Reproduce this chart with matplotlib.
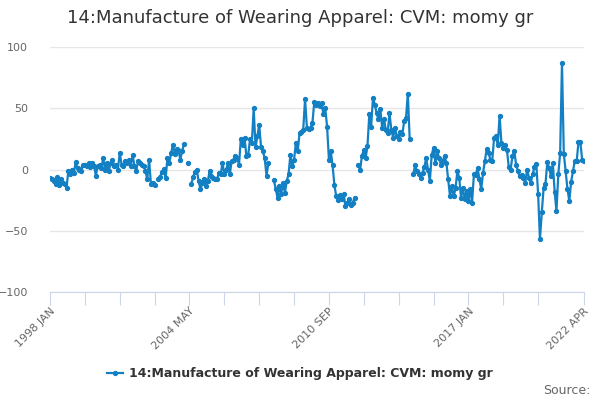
import matplotlib

matplotlib.use("Agg")
import matplotlib.pyplot as plt
import numpy as np

TITLE = "14:Manufacture of Wearing Apparel: CVM: momy gr"
LINE_COL = "#1380c3"

# monthly series, 1998 JAN .. 2022 APR, split where the source has no values
seg_a = [-7, -8, -9.5, -12, -6, -13, -8, -11, -12, -15, -1, -4, 0, -3, 6, 1,
         0, -1, 4, 4, 3, 5, 2, 5, 3, -5, 3, 4, 1, 9.5, 0, 5, -1, 5, 8, 3, 4,
         0, 13.6, 4, 3, 7, 5, 8, 3, 12, 3, -1, 7, 5, 4, 3, -1, -8, 8, -12,
         -11, -13]
seg_b = [-7.6, -6, -2, 0.5, -7, 9, 5, 13.6, 20, 13, 17, 16, 8, 15, 21]
seg_lone = [5]
seg_c = [-12, -6, -2, -0.5, -9.5, -16, -11, -8, -13.6, -9.5, -1, -5, -7,
         -7.6, -8, -3, -4, 5.4, -4, 0, 5, -4, 7, 8, 11, 9.5, 4, 25, 20, 26,
         11.4, 12, 24.5, 22, 50, 18, 27, 36.7, 18.5, 15, 9, -5, 5]
seg_d = [-8.7, -16, -23, -13.6, -19.6, -11, -19, -9.5, -4, 12, 2.7, 8, 21.8,
         15, 30, 30.5, 32.6, 57.7, 34, 33, 34, 38, 55, 53, 54, 51.7, 54, 45,
         50, 35, 8, 15, 3.3, -13, -22, -25, -21, -24, -20, -30, -27, -24,
         -28.6, -27, -23]
seg_e = [4, -0.5, 11.4, 15.8, 9.5, 19, 45, 35, 58.5, 53, 46, 41, 49.5, 34,
         41, 32.6, 30, 46, 32.6, 26, 34, 27, 24.5, 30.5, 28.6, 39.5, 42, 62,
         25]
seg_f = [-3.3, 3.3, -1.4, -4, -6.8, -2.7, 2, 9.3, 0, -9.5, 12, 17.7, 5.4, 15,
         9.5, 4, 6.8, 11, 5.4, -8, -22, -13.6, -22, -15, -1.4,
         -6.8, -23, -15, -24, -17.6, -25.7, -16, -27, -4, -4.6, 1.4, -8, -16,
         -2.7, 7.3, 17, 13.5, 8, 7.3, 25.7, 27, 19.9, 44,
         21.6, 17.6, 20, 16, 2, 0, 10.8, 15.4, 4, -1.4, -5.4, -4.6, -6.8,
         -10.8, 0, -6.8, -10.8, -4, 2, 4.6, -20, -57,
         -35, -15, -12, 6, 1.4, -5.4, 5.4, -18, -34, -4, 13.5, 87,
         12.7, -1.4, -16, -25.7, -10, -1.4, 7.3, 6.8, 22.4, 22.4, 8, 6.8]
# (segment, missing months after it)
SEGMENTS = [(seg_a, 1), (seg_b, 1), (seg_lone, 1), (seg_c, 2),
            (seg_d, 1), (seg_e, 1), (seg_f, 0)]

TICK_POS = [0, 19, 38, 57, 76, 95, 114, 133, 152, 171, 190, 209, 228, 247,
            266, 291]
TICK_LABELS = {0: "1998 JAN", 76: "2004 MAY", 152: "2010 SEP",
               228: "2017 JAN", 291: "2022 APR"}

vals = []
for seg, gap in SEGMENTS:
    vals += seg + [np.nan] * gap
vals = np.array(vals, dtype=float)
months = np.arange(len(vals))

plt.rcParams["font.family"] = "DejaVu Sans"
fig = plt.figure(figsize=(6, 4), dpi=100)
ax = fig.add_axes([50 / 600, 108 / 400, 534 / 600, 245 / 400])

ax.plot(months, vals, color=LINE_COL, lw=1.6, marker="o", ms=2.8,
        label=TITLE, zorder=3)

ax.set_xlim(0, 291)
ax.set_ylim(-100, 100)
ax.set_yticks([-100, -50, 0, 50, 100])
ax.grid(axis="y", color="#e6e6e6", lw=1)
ax.set_axisbelow(True)
for s in ["top", "right", "left"]:
    ax.spines[s].set_visible(False)
ax.spines["bottom"].set_color("#ccd6eb")
ax.tick_params(axis="y", length=0, pad=16, labelsize=8, labelcolor="#666666")
ax.set_xticks(TICK_POS)
ax.set_xticklabels([TICK_LABELS.get(t, "") for t in TICK_POS])
ax.tick_params(axis="x", length=9, color="#ccd6eb", pad=1, labelsize=8,
               labelcolor="#666666")
for lab in ax.get_xticklabels():
    lab.set_rotation(45)
    lab.set_ha("right")
    lab.set_va("top")
    lab.set_rotation_mode("anchor")

fig.text(0.5, 1 - 18 / 400, TITLE, ha="center", va="center", fontsize=13,
         color="#333333")
leg = fig.legend(loc="center", bbox_to_anchor=(0.5, 1 - 374 / 400),
                 frameon=False, handlelength=1.3, handletextpad=0.5,
                 prop={"size": 9, "weight": "bold"})
for t in leg.get_texts():
    t.set_color("#333333")
fig.text(590 / 600, 1 - 390 / 400, "Source:", ha="right", va="center",
         fontsize=9, color="#666666")

fig.savefig("out.png", dpi=100)
